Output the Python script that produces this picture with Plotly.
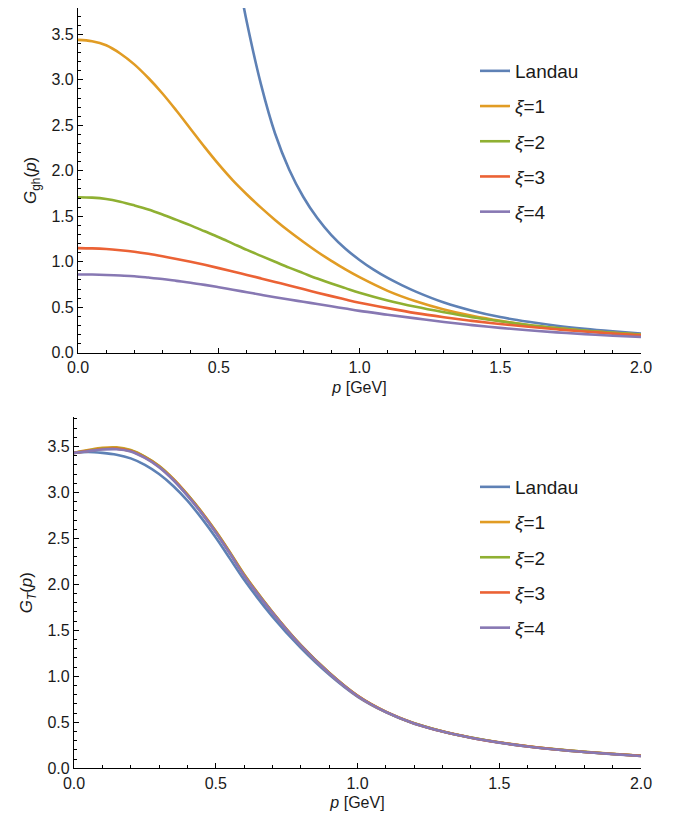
import plotly.graph_objects as go

# ---------------- data ----------------
p_top = [0.0, 0.05, 0.1, 0.15, 0.2, 0.25, 0.3, 0.35, 0.4, 0.45, 0.5, 0.55, 0.6, 0.65,
         0.7, 0.75, 0.8, 0.85, 0.9, 0.95, 1.0, 1.1, 1.2, 1.3, 1.4, 1.5, 1.6, 1.7, 1.8, 1.9, 2.0]

# top panel: ghost propagator
p_landau_gh = [0.575, 0.60, 0.65, 0.70, 0.75, 0.80, 0.85, 0.90, 0.95, 1.00, 1.05, 1.10,
               1.15, 1.20, 1.30, 1.40, 1.50, 1.60, 1.70, 1.80, 1.90, 2.00]
gh_landau = [4.03, 3.63, 2.95, 2.41, 2.015, 1.715, 1.48, 1.293, 1.143, 1.02, 0.913, 0.822,
             0.743, 0.672, 0.552, 0.462, 0.392, 0.34, 0.297, 0.263, 0.235, 0.21]
gh_xi1 = [3.44, 3.425, 3.38, 3.29, 3.17, 3.02, 2.85, 2.66, 2.46, 2.26, 2.07, 1.895, 1.74, 1.595,
          1.46, 1.335, 1.22, 1.11, 1.01, 0.915, 0.83, 0.68, 0.565, 0.475, 0.405, 0.35, 0.305, 0.27, 0.24, 0.218, 0.20]
gh_xi2 = [1.71, 1.705, 1.69, 1.66, 1.62, 1.575, 1.52, 1.46, 1.40, 1.335, 1.27, 1.20, 1.13, 1.065,
          1.00, 0.935, 0.875, 0.815, 0.76, 0.71, 0.66, 0.575, 0.505, 0.445, 0.39, 0.345, 0.305, 0.272, 0.243, 0.218, 0.197]
gh_xi3 = [1.15, 1.147, 1.14, 1.127, 1.11, 1.087, 1.06, 1.031, 1.00, 0.966, 0.93, 0.893, 0.855, 0.817,
          0.778, 0.74, 0.70, 0.66, 0.622, 0.585, 0.55, 0.49, 0.435, 0.39, 0.35, 0.315, 0.285, 0.257, 0.233, 0.21, 0.19]
gh_xi4 = [0.86, 0.859, 0.855, 0.848, 0.84, 0.826, 0.81, 0.79, 0.77, 0.746, 0.72, 0.693, 0.665, 0.637,
          0.61, 0.585, 0.56, 0.535, 0.51, 0.485, 0.46, 0.418, 0.377, 0.338, 0.303, 0.273, 0.247, 0.224, 0.204, 0.187, 0.172]

# bottom panel: G_T
p_fine = [0.0, 0.05, 0.1, 0.15, 0.2, 0.25, 0.3, 0.35, 0.4, 0.45, 0.5, 0.55, 0.6,
          0.7, 0.8, 0.9, 1.0, 1.1, 1.2, 1.3, 1.4, 1.5, 1.6, 1.7, 1.8, 1.9, 2.0]
gt_landau = [3.43, 3.44, 3.43, 3.41, 3.37, 3.30, 3.20, 3.07, 2.91, 2.72, 2.51, 2.28, 2.05,
             1.65, 1.31, 1.02, 0.78, 0.61, 0.485, 0.40, 0.333, 0.28, 0.237, 0.205, 0.178, 0.155, 0.135]
gt_xi1 = [3.43, 3.46, 3.485, 3.49, 3.46, 3.39, 3.29, 3.15, 2.98, 2.79, 2.58, 2.35, 2.11,
          1.70, 1.34, 1.04, 0.79, 0.615, 0.49, 0.402, 0.335, 0.282, 0.24, 0.207, 0.18, 0.157, 0.137]
gt_xi2 = [3.43, 3.455, 3.478, 3.482, 3.455, 3.385, 3.285, 3.145, 2.975, 2.785, 2.575, 2.345, 2.105,
          1.697, 1.338, 1.038, 0.789, 0.614, 0.489, 0.401, 0.334, 0.281, 0.239, 0.206, 0.179, 0.156, 0.136]
gt_xi3 = [3.43, 3.452, 3.472, 3.476, 3.45, 3.38, 3.28, 3.14, 2.97, 2.78, 2.57, 2.34, 2.10,
          1.694, 1.336, 1.036, 0.788, 0.613, 0.488, 0.40, 0.333, 0.28, 0.238, 0.205, 0.178, 0.155, 0.135]
gt_xi4 = [3.43, 3.448, 3.466, 3.47, 3.445, 3.375, 3.275, 3.135, 2.965, 2.775, 2.565, 2.335, 2.095,
          1.69, 1.333, 1.034, 0.786, 0.612, 0.487, 0.399, 0.332, 0.279, 0.237, 0.204, 0.177, 0.154, 0.134]

series_names = ["Landau", "<i>ξ</i>=1", "<i>ξ</i>=2", "<i>ξ</i>=3", "<i>ξ</i>=4"]
colors = ["#5E81B5", "#E19C24", "#8FB032", "#EB6235", "#8778B3"]
x_ticks = [0.0, 0.5, 1.0, 1.5, 2.0]
y_ticks = [0.0, 0.5, 1.0, 1.5, 2.0, 2.5, 3.0, 3.5]

# ---------------- figure ----------------
FONT = "Liberation Sans, Arial, Helvetica, sans-serif"
fig = go.Figure()

top_x = [p_landau_gh, p_top, p_top, p_top, p_top]
top_y = [gh_landau, gh_xi1, gh_xi2, gh_xi3, gh_xi4]
for i in range(5):
    fig.add_trace(go.Scatter(x=top_x[i], y=top_y[i], mode="lines", name=series_names[i],
                             line=dict(color=colors[i], width=2.6, shape="spline", smoothing=1.0),
                             xaxis="x", yaxis="y", legend="legend", legendgroup=f"t{i}"))

bot_y = [gt_landau, gt_xi1, gt_xi2, gt_xi3, gt_xi4]
for i in range(5):
    fig.add_trace(go.Scatter(x=p_fine, y=bot_y[i], mode="lines", name=series_names[i],
                             line=dict(color=colors[i], width=2.6, shape="spline", smoothing=1.0),
                             xaxis="x2", yaxis="y2", legend="legend2", legendgroup=f"b{i}"))

# the page body adds an 8px offset; figure is sized so it fits the window
OFF = 8
W, H = 673 - OFF, 827 - OFF

def fx(px):
    return min(1.0, max(0.0, (px - OFF) / W))

def fy(py):
    return min(1.0, max(0.0, 1 - (py - OFF) / H))

def xaxis(domain, anchor):
    return dict(domain=domain, anchor=anchor, range=[0, 2.0], tickvals=x_ticks, automargin=False,
                tickformat=".1f", ticks="inside", ticklen=5, tickwidth=1, tickcolor="black",
                showline=True, linecolor="black", linewidth=1.3, showgrid=False, zeroline=False,
                minor=dict(dtick=0.1, tick0=0, ticks="inside", ticklen=3, tickcolor="black", showgrid=False),
                tickfont=dict(family=FONT, size=16, color="#1a1a1a"),
                title=dict(text="<i>p</i> [GeV]", font=dict(family=FONT, size=16, color="#1a1a1a"), standoff=6))

def yaxis(domain, anchor, rng, title):
    return dict(domain=domain, anchor=anchor, range=rng, tickvals=y_ticks, automargin=False,
                tickformat=".1f", ticks="inside", ticklen=5, tickwidth=1, tickcolor="black",
                showline=True, linecolor="black", linewidth=1.3, showgrid=False, zeroline=False,
                minor=dict(dtick=0.1, tick0=0, ticks="inside", ticklen=3, tickcolor="black", showgrid=False),
                tickfont=dict(family=FONT, size=16, color="#1a1a1a"),
                title=dict(text=title, font=dict(family=FONT, size=17, color="#1a1a1a"), standoff=10))

legend_common = dict(font=dict(family=FONT, size=19, color="#1a1a1a"), bgcolor="rgba(0,0,0,0)",
                     borderwidth=0, tracegroupgap=7.5, itemwidth=30, xanchor="left", yanchor="top")

fig.update_layout(
    width=W, height=H, margin=dict(l=0, r=0, t=0, b=0),
    paper_bgcolor="white", plot_bgcolor="white",
    xaxis=xaxis([fx(78), fx(641)], "y"),
    yaxis=yaxis([fy(352.7), fy(8)], "x", [0, 3.79], "<i>G</i><sub>gh</sub>(<i>p</i>)"),
    xaxis2=xaxis([fx(74), fx(641)], "y2"),
    yaxis2=yaxis([fy(768.3), fy(417)], "x2", [0, 3.82], "<i>G</i><sub><i>T</i></sub>(<i>p</i>)"),
    legend=dict(x=fx(475), y=fy(52), **legend_common),
    legend2=dict(x=fx(475), y=fy(468), **legend_common),
)

fig.write_html("out.html")
